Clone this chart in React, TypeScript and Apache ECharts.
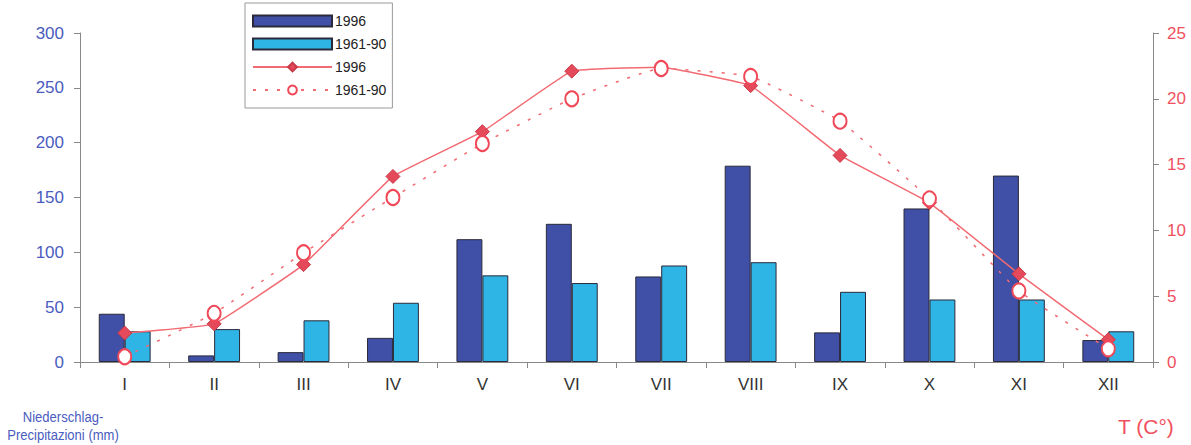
import React, { useEffect, useRef } from "react";
import * as echarts from "echarts";

const months = ["I", "II", "III", "IV", "V", "VI", "VII", "VIII", "IX", "X", "XI", "XII"];
const precip1996 = [44, 6, 9, 22, 112, 126, 78, 179, 27, 140, 170, 20];
const precip6190 = [28, 30, 38, 54, 79, 72, 88, 91, 64, 57, 57, 28];
const temp1996 = [2.2, 2.9, 7.4, 14.1, 17.5, 22.1, 22.4, 21.0, 15.7, 12.1, 6.7, 1.7];
const temp6190 = [0.4, 3.7, 8.3, 12.5, 16.6, 20.0, 22.3, 21.7, 18.3, 12.4, 5.4, 1.0];
const precipTicks = { min: 0, max: 300, interval: 50 };
const tempTicks = { min: 0, max: 25, interval: 5 };

const FONT = "'Liberation Sans', Arial, sans-serif";
const BLUE_TXT = "#4a5cc0";
const RED_TXT = "#f0505e";
const RED_LINE = "#f26a72";

export default function App() {
  const ref = useRef<HTMLDivElement>(null);
  useEffect(() => {
    if (!ref.current) return;
    const chart = echarts.init(ref.current, null, { renderer: "svg" });
    const labelMap: Record<string, string> = {
      P1996: "1996",
      P6190: "1961-90",
      T1996: "1996",
      T6190: "1961-90",
    };
    chart.setOption({
      animation: false,
      backgroundColor: "#ffffff",
      textStyle: { fontFamily: FONT },
      grid: { left: 80, right: 38, top: 33, bottom: 83 },
      legend: {
        orient: "vertical",
        left: 245,
        top: 3,
        borderColor: "#999",
        borderWidth: 1,
        padding: [11, 6, 11, 7],
        itemWidth: 79,
        itemHeight: 11,
        itemGap: 9,
        textStyle: { fontSize: 14, color: "#222", fontFamily: FONT, padding: [0, 0, 0, -2] },
        formatter: (n: string) => labelMap[n] ?? n,
        data: [
          { name: "P1996", icon: "rect" },
          { name: "P6190", icon: "rect" },
          { name: "T1996" },
          { name: "T6190" },
        ],
      },
      xAxis: {
        type: "category",
        data: months,
        axisLine: { lineStyle: { color: "#888", width: 1 } },
        axisTick: { show: true, length: 6, lineStyle: { color: "#888" } },
        axisLabel: { fontSize: 17, color: "#333", margin: 14, fontFamily: FONT },
      },
      yAxis: [
        {
          type: "value",
          ...precipTicks,
          position: "left",
          splitLine: { show: false },
          axisLine: { show: true, lineStyle: { color: "#888" } },
          axisTick: { show: true, length: 6, lineStyle: { color: "#888" } },
          axisLabel: { fontSize: 17, color: BLUE_TXT, margin: 16, fontFamily: FONT },
        },
        {
          type: "value",
          ...tempTicks,
          position: "right",
          splitLine: { show: false },
          axisLine: { show: true, lineStyle: { color: "#888" } },
          axisTick: { show: true, length: 6, lineStyle: { color: "#888" } },
          axisLabel: { fontSize: 17, color: RED_TXT, margin: 14, fontFamily: FONT },
        },
      ],
      series: [
        {
          name: "P1996",
          type: "bar",
          yAxisIndex: 0,
          data: precip1996,
          barGap: "0%",
          barCategoryGap: "42%",
          itemStyle: { color: "#3f50a6", borderColor: "#2a2a3a", borderWidth: 1 },
        },
        {
          name: "P6190",
          type: "bar",
          yAxisIndex: 0,
          data: precip6190,
          barGap: "0%",
          barCategoryGap: "42%",
          itemStyle: { color: "#2fb4e6", borderColor: "#2a2a3a", borderWidth: 1 },
        },
        {
          name: "T1996",
          type: "line",
          yAxisIndex: 1,
          data: temp1996,
          smooth: 0.08,
          symbol: "diamond",
          symbolSize: 14,
          z: 5,
          lineStyle: { color: RED_LINE, width: 1.5 },
          itemStyle: { color: "#e54a5a", borderColor: "#c83848", borderWidth: 1 },
        },
        {
          name: "T6190",
          type: "line",
          yAxisIndex: 1,
          data: temp6190,
          smooth: 0.12,
          symbol: "circle",
          symbolSize: [13, 15],
          z: 6,
          lineStyle: { color: RED_LINE, width: 1.5, type: [3, 9] },
          itemStyle: { color: "#ffffff", borderColor: "#f04858", borderWidth: 2 },
        },
      ],
      graphic: [
        {
          type: "text",
          x: 63,
          y: 408,
          scaleX: 0.87,
          originX: 0,
          style: {
            text: "Niederschlag-\nPrecipitazioni (mm)",
            fill: BLUE_TXT,
            font: `15px ${FONT}`,
            align: "center",
            verticalAlign: "top",
            lineHeight: 18,
          },
        },
        {
          type: "text",
          x: 1118,
          y: 416,
          style: { text: "T (C°)", fill: RED_TXT, font: `21px ${FONT}`, verticalAlign: "top" },
        },
      ],
    });
    return () => chart.dispose();
  }, []);
  return (
    <div
      ref={ref}
      style={{ position: "fixed", left: 0, top: 0, width: 1191, height: 445 }}
    />
  );
}
